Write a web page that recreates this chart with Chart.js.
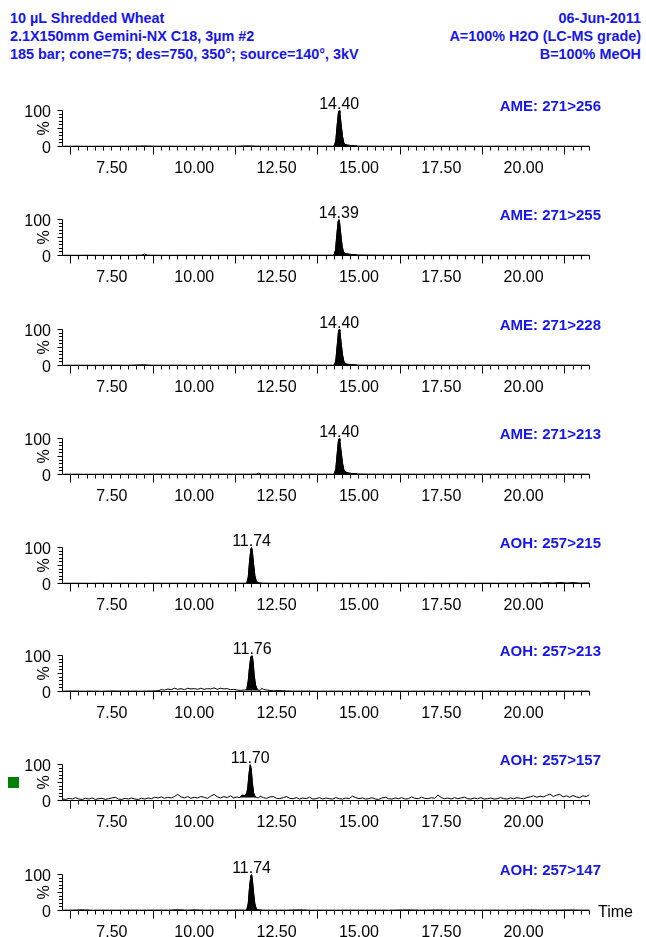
<!DOCTYPE html>
<html>
<head>
<meta charset="utf-8">
<script src="https://cdn.jsdelivr.net/npm/chart.js@4.4.0/dist/chart.umd.min.js"></script>
<style>
  html, body { margin: 0; padding: 0; background: #fff; }
  #page { position: relative; width: 646px; height: 937px; overflow: hidden; font-family: "Liberation Sans", Arial, sans-serif; }
  .hd { position: absolute; top: 9px; font-weight: bold; font-size: 14.4px; line-height: 18px; color: #1515f0; white-space: nowrap; }
  canvas.panel { position: absolute; left: 0; }
  #marker { position: absolute; left: 8px; top: 777px; width: 11px; height: 11px; background: #008000; }
</style>
</head>
<body>
<div id="page">
  <div class="hd" style="left:10px">10 µL Shredded Wheat<br>2.1X150mm Gemini-NX C18, 3µm #2<br>185 bar; cone=75; des=750, 350°; source=140°, 3kV</div>
  <div class="hd" style="right:5px;text-align:right">06-Jun-2011<br>A=100% H2O (LC-MS grade)<br>B=100% MeOH</div>
  <div id="marker"></div>
</div>
<script>
// channel names, peak apex times (min) and integration windows
const channelNames = ['AME: 271>256', 'AME: 271>255', 'AME: 271>228', 'AME: 271>213',
                      'AOH: 257>215', 'AOH: 257>213', 'AOH: 257>157', 'AOH: 257>147'];
const peakTimes = [14.40, 14.39, 14.40, 14.40, 11.74, 11.76, 11.70, 11.74];
const peakWindows = [[14.22, 14.95], [14.21, 14.94], [14.22, 14.95], [14.22, 14.95],
                     [11.56, 12.06], [11.56, 11.95], [11.40, 11.88], [11.56, 12.06]];
const peakFloors = [0, 0, 0, 0, 0, 3, 8, 0];

// axis ticks
const timeLabels = [7.5, 10, 12.5, 15, 17.5, 20];
const longTicks = [6.25, 8.75, 11.25, 13.75, 16.25, 18.75, 21.25];

// traces: [time (min), relative intensity (%)]
const ame256 = [[6.0,0.6],[6.4,0.9],[6.8,0.5],[7.2,0.8],[7.6,0.6],[8.0,0.9],[8.5,1.6],[8.9,0.7],[9.3,0.9],[9.7,0.6],
  [10.1,0.8],[10.5,0.7],[10.9,0.9],[11.3,0.8],[11.6,1.8],[12.0,0.8],[12.4,0.9],[12.8,0.7],[13.2,0.8],[13.6,0.9],[14.0,0.8],
  [14.22,0.9],[14.26,3],[14.30,18],[14.34,60],[14.38,96],[14.40,100],[14.42,94],[14.46,60],[14.50,28],[14.54,11],[14.58,6],
  [14.64,4],[14.72,3],[14.82,2],[14.95,1.2],[15.3,0.9],[15.8,0.8],[16.3,1.0],[16.8,0.7],[17.3,0.8],[17.8,0.7],[18.3,0.9],
  [18.8,0.7],[19.3,0.8],[19.8,0.6],[20.3,0.9],[20.8,0.7],[21.3,0.8],[21.7,0.6],[22.0,0.7]];

const ame255 = [[6.0,0.7],[6.4,0.5],[6.8,0.8],[7.2,0.6],[7.6,0.7],[8.0,0.6],[8.4,1.0],[8.49,4],[8.58,1.0],[8.9,0.7],
  [9.3,0.6],[9.7,0.8],[10.1,0.7],[10.5,0.6],[10.9,0.8],[11.3,0.7],[11.7,0.9],[12.1,0.7],[12.5,0.8],[12.9,0.9],[13.3,1.2],
  [13.7,0.8],[14.0,0.9],[14.21,1],[14.25,3],[14.29,16],[14.33,58],[14.37,95],[14.39,100],[14.41,93],[14.45,58],[14.49,26],
  [14.53,10],[14.57,6],[14.63,4.5],[14.71,3.5],[14.81,2.5],[14.94,1.5],[15.3,1.2],[15.8,0.9],[16.3,0.8],[16.8,1.0],
  [17.3,0.7],[17.8,0.9],[18.3,0.7],[18.8,0.8],[19.3,0.7],[19.8,0.9],[20.3,0.7],[20.8,0.8],[21.3,0.6],[21.7,0.8],[22.0,0.7]];

const ame228 = [[6.0,0.6],[6.4,0.8],[6.8,0.6],[7.2,0.7],[7.6,0.9],[8.0,0.6],[8.45,2.2],[8.7,0.8],[9.1,0.7],[9.5,0.9],
  [9.9,0.6],[10.3,0.8],[10.7,0.7],[11.1,0.9],[11.5,0.8],[11.9,1.0],[12.3,0.7],[12.7,0.9],[13.1,0.8],[13.5,1.0],[13.9,0.8],
  [14.22,0.8],[14.26,2.5],[14.30,15],[14.34,55],[14.38,95],[14.40,100],[14.42,95],[14.46,62],[14.50,30],[14.54,12],[14.58,6],
  [14.64,3.5],[14.72,2.5],[14.82,1.8],[14.95,1.1],[15.3,0.8],[15.8,0.9],[16.3,0.7],[16.8,0.9],[17.3,0.8],[17.8,0.6],
  [18.3,0.8],[18.8,0.9],[19.3,0.7],[19.8,0.8],[20.3,0.9],[20.8,0.7],[21.3,0.9],[21.7,0.7],[22.0,0.8]];

const ame213 = [[6.0,0.7],[6.4,0.9],[6.8,0.6],[7.2,0.8],[7.6,0.7],[8.0,0.9],[8.4,0.7],[8.8,1.0],[9.2,0.8],[9.6,0.7],
  [10.0,0.9],[10.4,0.8],[10.8,1.0],[11.2,0.8],[11.6,0.9],[11.88,1.0],[11.95,4],[12.02,1.0],[12.4,0.9],[12.8,1.1],[13.2,0.8],
  [13.6,1.0],[14.0,0.9],[14.22,1],[14.26,3],[14.30,17],[14.34,58],[14.38,96],[14.40,100],[14.42,93],[14.46,62],[14.50,32],
  [14.54,14],[14.58,8],[14.64,5],[14.72,3.5],[14.82,2.5],[14.95,1.5],[15.3,1.1],[15.8,0.9],[16.3,1.0],[16.8,0.8],[17.3,0.9],
  [17.8,0.8],[18.3,1.0],[18.8,0.8],[19.3,0.9],[19.8,0.7],[20.3,0.9],[20.8,0.8],[21.3,1.0],[21.7,0.8],[22.0,0.9]];

const aoh215 = [[6.0,0.6],[6.4,0.8],[6.8,0.6],[7.2,0.9],[7.6,0.7],[8.0,0.8],[8.4,0.6],[8.8,0.9],[9.2,0.7],[9.6,0.8],
  [10.0,0.7],[10.4,0.9],[10.8,0.7],[11.2,0.8],[11.56,0.8],[11.60,3],[11.64,18],[11.68,62],[11.72,96],[11.74,100],[11.76,92],
  [11.80,55],[11.84,22],[11.88,8],[11.92,3],[11.98,1.5],[12.06,1],[12.4,0.8],[12.8,0.9],[13.2,0.7],[13.6,0.8],[14.0,0.9],
  [14.4,0.7],[14.8,0.8],[15.2,0.7],[15.6,0.9],[16.0,0.7],[16.4,0.8],[16.8,0.9],[17.2,0.7],[17.6,0.8],[18.0,0.9],[18.4,0.7],
  [18.8,0.9],[19.2,0.8],[19.6,1.0],[20.0,0.9],[20.3,1.8],[20.5,1.2],[20.7,2.4],[20.9,1.4],[21.1,2.8],[21.3,1.6],[21.5,2.6],
  [21.7,1.3],[22.0,1.8]];

const aoh213 = [[6.0,1.0],[6.3,1.5],[6.6,0.8],[6.9,1.2],[7.2,0.8],[7.5,1.5],[7.8,1.0],[8.1,1.2],[8.4,0.9],[8.7,1.5],
  [8.9,2],[9.0,5],[9.1,4],[9.2,7],[9.3,5],[9.4,9],[9.5,6],[9.6,8],[9.7,5],[9.8,9],[9.9,7],[10.0,8],[10.1,6],[10.2,9],
  [10.3,6],[10.4,8],[10.5,7],[10.6,10],[10.7,6],[10.8,9],[10.9,7],[11.0,8],[11.1,5],[11.2,6],[11.3,4],[11.4,3],[11.5,4],
  [11.56,4],[11.60,8],[11.64,30],[11.68,70],[11.72,97],[11.76,100],[11.79,80],[11.82,45],[11.86,18],[11.90,8],[11.95,4],
  [12.0,3],[12.05,9],[12.1,6],[12.2,4],[12.3,3],[12.4,2],[12.6,2.5],[12.8,1.5],[13.0,1.0],[13.4,1.2],[13.8,0.8],[14.2,1.0],
  [14.6,0.8],[15.0,1.1],[15.5,0.8],[16.0,1.0],[16.5,0.8],[17.0,1.0],[17.5,0.9],[18.0,1.1],[18.5,0.8],[19.0,1.0],[19.5,0.9],
  [20.0,1.2],[20.5,0.9],[21.0,1.1],[21.5,0.9],[22.0,1.0]];

const aoh157 = [[6.0,4],[6.1,3],[6.2,6],[6.3,4],[6.4,8],[6.5,4],[6.6,3],[6.7,6],[6.8,4],[6.9,7],[7.0,3],[7.1,5],[7.2,6],
  [7.3,3],[7.4,5],[7.5,7],[7.6,9],[7.7,4],[7.8,3],[7.9,6],[8.0,4],[8.1,7],[8.2,4],[8.3,3],[8.4,6],[8.5,4],[8.6,7],[8.7,5],
  [8.8,9],[8.9,7],[9.0,10],[9.1,6],[9.2,9],[9.3,7],[9.4,11],[9.5,17],[9.6,10],[9.7,7],[9.8,11],[9.9,6],[10.0,9],[10.1,7],
  [10.2,11],[10.3,9],[10.4,6],[10.5,12],[10.6,17],[10.7,10],[10.8,7],[10.9,11],[11.0,8],[11.1,13],[11.2,7],[11.3,10],
  [11.36,8],[11.40,9],[11.44,14],[11.48,15],[11.52,13],[11.56,16],[11.60,22],[11.63,40],[11.66,72],[11.70,100],[11.73,88],
  [11.76,52],[11.80,22],[11.84,12],[11.88,9],[11.95,7],[12.0,12],[12.1,8],[12.2,6],[12.3,10],[12.4,11],[12.5,6],[12.6,5],
  [12.7,8],[12.8,11],[12.9,6],[13.0,5],[13.1,8],[13.2,4],[13.3,7],[13.4,5],[13.5,9],[13.6,4],[13.7,5],[13.8,8],[13.9,4],
  [14.0,7],[14.1,5],[14.2,4],[14.3,8],[14.4,5],[14.5,4],[14.6,7],[14.7,5],[14.8,12],[14.9,8],[15.0,5],[15.1,7],[15.2,4],
  [15.3,5],[15.4,8],[15.5,4],[15.6,3],[15.7,7],[15.8,9],[15.9,5],[16.0,4],[16.1,7],[16.2,5],[16.3,8],[16.4,4],[16.5,5],
  [16.6,10],[16.7,6],[16.8,5],[16.9,9],[17.0,6],[17.1,5],[17.2,8],[17.3,6],[17.4,15],[17.5,8],[17.6,5],[17.7,7],[17.8,4],
  [17.9,8],[18.0,5],[18.1,7],[18.2,9],[18.3,5],[18.4,4],[18.5,7],[18.6,5],[18.7,8],[18.8,4],[18.9,5],[19.0,7],[19.1,4],
  [19.2,5],[19.3,8],[19.4,5],[19.5,4],[19.6,7],[19.7,5],[19.8,8],[19.9,6],[20.0,5],[20.1,8],[20.2,10],[20.3,13],[20.4,9],
  [20.5,12],[20.6,10],[20.7,14],[20.8,18],[20.9,11],[21.0,15],[21.1,17],[21.2,10],[21.3,13],[21.4,9],[21.5,14],[21.6,10],
  [21.7,8],[21.8,13],[21.9,11],[22.0,16]];

const aoh147 = [[6.0,0.8],[6.3,1.0],[6.6,2.0],[6.9,0.8],[7.2,1.0],[7.6,0.8],[8.0,1.1],[8.4,0.9],[8.8,1.2],[9.2,1.0],
  [9.5,2.2],[9.8,1.0],[10.0,2.0],[10.3,1.0],[10.7,1.2],[11.0,1.0],[11.3,1.4],[11.56,1],[11.60,3],[11.64,20],[11.68,66],
  [11.72,97],[11.74,100],[11.76,90],[11.80,50],[11.84,18],[11.88,6],[11.92,2.5],[11.98,1.5],[12.06,1],[12.4,0.9],[12.8,1.0],
  [13.2,2.0],[13.5,0.9],[13.9,1.0],[14.3,0.8],[14.7,1.1],[15.1,0.9],[15.5,1.0],[15.9,0.8],[16.5,1.8],[16.9,0.9],[17.4,1.6],
  [17.8,0.9],[18.2,1.0],[18.6,0.8],[19.0,1.1],[19.4,0.9],[19.8,1.0],[20.2,1.7],[20.6,1.0],[21.0,1.2],[21.4,1.6],[21.8,1.0],
  [22.0,1.1]];

const traces = [ame256, ame255, ame228, ame213, aoh215, aoh213, aoh157, aoh147];
const baselines = [146, 255, 365, 474, 583, 691, 800, 910];

const BLUE = '#1515f0';
const FONT = '"Liberation Sans", Arial, sans-serif';

// draws the MassLynx style axes and the texts around each trace
const msAxes = {
    id: 'msAxes',
    afterDatasetsDraw(chart, args, opts) {
        const ctx = chart.ctx;
        const xs = chart.scales.x, ys = chart.scales.y;
        const crisp = v => Math.floor(v) + 0.5;
        const y0 = crisp(ys.getPixelForValue(0));
        const y100 = crisp(ys.getPixelForValue(100));
        const xl = crisp(xs.getPixelForValue(6));
        const xr = crisp(xs.getPixelForValue(22));

        ctx.save();
        ctx.strokeStyle = '#000';
        ctx.lineWidth = 1;
        ctx.beginPath();
        ctx.moveTo(xl, y0); ctx.lineTo(xr, y0);
        ctx.moveTo(xl, y0); ctx.lineTo(xl, y100);
        // time ticks every 0.25 min
        for (let q = 25; q <= 1600; q += 25) {
            const t = 6 + q / 100;
            const px = crisp(xs.getPixelForValue(t));
            const long = longTicks.some(v => Math.abs(v - t) < 1e-6);
            ctx.moveTo(px, y0);
            ctx.lineTo(px, y0 + (long ? 8 : 4));
        }
        // intensity ticks every 10 %
        for (let v = 0; v <= 100; v += 10) {
            const py = crisp(ys.getPixelForValue(v));
            ctx.moveTo(xl, py);
            ctx.lineTo(xl - (v % 50 === 0 ? 5 : 3.5), py);
        }
        ctx.stroke();

        ctx.fillStyle = '#000';
        ctx.font = '16px ' + FONT;
        ctx.textBaseline = 'alphabetic';
        ctx.textAlign = 'center';
        timeLabels.forEach(t => {
            ctx.fillText(t.toFixed(2), xs.getPixelForValue(t), y0 + 26);
        });
        ctx.textAlign = 'right';
        ctx.fillText('100', 51, y100 + 6);
        ctx.fillText('0', 51, y0 + 6);

        ctx.save();
        ctx.translate(45, (y0 + y100) / 2);
        ctx.rotate(-Math.PI / 2);
        ctx.textAlign = 'center';
        ctx.textBaseline = 'middle';
        ctx.fillText('%', 0, 0);
        ctx.restore();

        // retention time above the peak
        ctx.textAlign = 'center';
        ctx.fillText(opts.peak.toFixed(2), xs.getPixelForValue(opts.peak), y100 - 2);

        if (opts.showTime) {
            ctx.textAlign = 'left';
            ctx.fillText('Time', 598, y0 + 6);
        }

        ctx.fillStyle = BLUE;
        ctx.font = 'bold 15px ' + FONT;
        ctx.textAlign = 'right';
        ctx.fillText(opts.name, 601, y100 + 0.5);
        ctx.restore();
    }
};

const page = document.getElementById('page');
const toXY = p => ({ x: p[0], y: p[1] });

traces.forEach((trace, i) => {
    const canvas = document.createElement('canvas');
    canvas.className = 'panel';
    canvas.width = 646;
    canvas.height = 90;
    canvas.style.top = (baselines[i] - 58) + 'px';
    page.appendChild(canvas);

    const win = peakWindows[i];
    const peakPart = trace.filter(p => p[0] >= win[0] && p[0] <= win[1]);

    new Chart(canvas, {
        type: 'line',
        data: {
            datasets: [{
                data: peakPart.map(toXY),
                borderColor: '#000',
                backgroundColor: '#000',
                borderWidth: 1,
                pointRadius: 0,
                tension: 0,
                fill: peakFloors[i] === 0 ? 'origin' : { value: peakFloors[i] }
            }, {
                data: trace.map(toXY),
                borderColor: '#000',
                borderWidth: 1,
                pointRadius: 0,
                tension: 0,
                fill: false
            }]
        },
        options: {
            responsive: false,
            animation: false,
            devicePixelRatio: 1,
            events: [],
            layout: { padding: { left: 62.5, right: 56.5, top: 22.5, bottom: 31.5 } },
            scales: {
                x: { type: 'linear', min: 6, max: 22, display: false },
                y: { min: 0, max: 100, display: false }
            },
            plugins: {
                legend: { display: false },
                tooltip: { enabled: false },
                msAxes: { name: channelNames[i], peak: peakTimes[i], showTime: i === traces.length - 1 }
            }
        },
        plugins: [msAxes]
    });
});
</script>
</body>
</html>
